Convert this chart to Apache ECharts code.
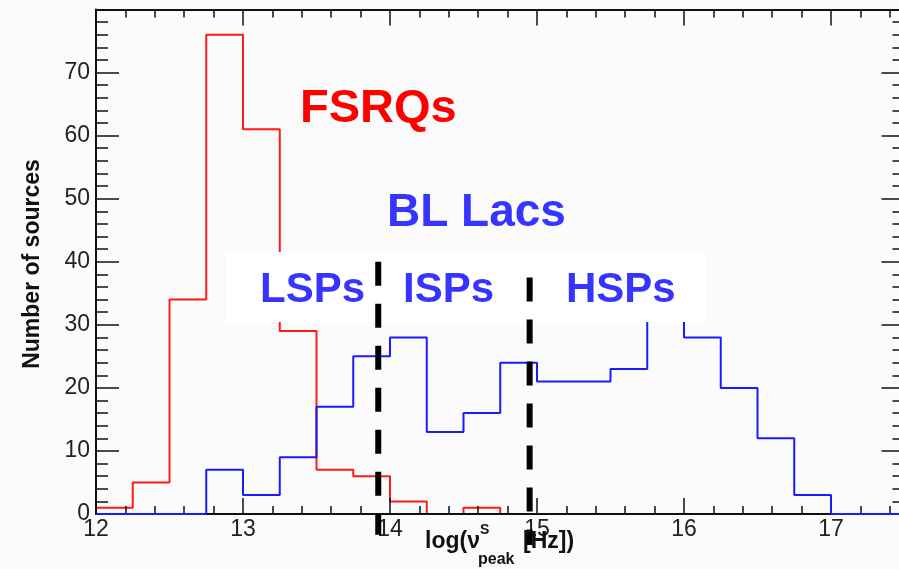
<!DOCTYPE html>
<html>
<head>
<meta charset="utf-8">
<script src="https://cdn.jsdelivr.net/npm/echarts@6/dist/echarts.min.js"></script>
<style>
  html, body { margin: 0; padding: 0; background: #fbfbfb; overflow: hidden; width: 899px; height: 569px; }
  /* the frame of the plot runs a few pixels past the visible page edge */
  #chart { width: 906px; height: 569px; }
</style>
</head>
<body>
<div id="chart"></div>
<script>
// Bin edges of log(nu_peak) histograms (bin width 0.25)
const binEdges = [12, 12.25, 12.5, 12.75, 13, 13.25, 13.5, 13.75, 14, 14.25, 14.5, 14.75,
                  15, 15.25, 15.5, 15.75, 16, 16.25, 16.5, 16.75, 17, 17.25, 17.5];
// Counts per bin
const fsrqCounts  = [1, 5, 34, 76, 61, 29, 7, 6, 2, 0, 1, 0, 0, 0, 0, 0, 0, 0, 0, 0, 0, 0];
const bllacCounts = [0, 0, 0, 7, 3, 9, 17, 25, 28, 13, 16, 24, 21, 21, 23, 32, 28, 20, 12, 3, 0, 0];
// Class boundaries (LSP/ISP and ISP/HSP) drawn as dashed lines: [x, yTop, yBottom]
const boundaryX      = [13.92, 14.95];
const boundaryTop    = [40, 37.5];
const boundaryBottom = [-3.3, -4.9];

const FONT = "'Liberation Sans', Arial, Helvetica, sans-serif";

function stepPoints(counts) {
  const pts = counts.map((c, i) => [binEdges[i], c]);
  pts.push([binEdges[counts.length], counts[counts.length - 1]]);
  return pts;
}

const chart = echarts.init(document.getElementById('chart'), null, { renderer: 'canvas' });

const tickStyle = { color: '#111', width: 1.5 };
const frameLine = { show: true, onZero: false, lineStyle: { color: '#111', width: 2 } };

function xAxisDef(pos, major) {
  return {
    type: 'value', min: 12, max: 17.5, interval: major ? 1 : 0.2, position: pos,
    z: 3,
    axisLine: major ? frameLine : { show: false, onZero: false },
    axisTick: { show: true, inside: true, length: major ? 16 : 8, lineStyle: tickStyle },
    axisLabel: (major && pos === 'bottom')
      ? { show: true, margin: 4, color: '#222', fontSize: 23, fontFamily: FONT, showMaxLabel: false }
      : { show: false },
    splitLine: { show: false }
  };
}
function yAxisDef(pos) {
  return {
    type: 'value', min: 0, max: 80, interval: 10, position: pos, z: 3,
    axisLine: frameLine,
    axisTick: { show: true, inside: true, length: 23, lineStyle: tickStyle },
    minorTick: { show: true, splitNumber: 5, length: 12, lineStyle: tickStyle },
    axisLabel: pos === 'left'
      ? { show: true, margin: 6, color: '#222', fontSize: 23, fontFamily: FONT, showMaxLabel: false }
      : { show: false },
    splitLine: { show: false }
  };
}

const boundaryData = boundaryX.map((x, i) => [x, boundaryTop[i], boundaryBottom[i]]);

// text helper: y is the baseline
function label(text, x, baseline, size, color) {
  return {
    type: 'text', x: x, y: baseline - 0.35 * size, z: 30, silent: true,
    style: { text: text, fill: color, font: 'bold ' + size + 'px ' + FONT,
             align: 'left', verticalAlign: 'middle' }
  };
}

chart.setOption({
  backgroundColor: '#fbfbfb',
  animation: false,
  grid: { left: 96, right: 1.5, top: 9.5, bottom: 55, containLabel: false },
  xAxis: [xAxisDef('bottom', true), xAxisDef('bottom', false), xAxisDef('top', true), xAxisDef('top', false)],
  yAxis: [yAxisDef('left'), yAxisDef('right')],
  series: [
    {
      name: 'FSRQs', type: 'line', step: 'end', z: 2, silent: true,
      xAxisIndex: 0, yAxisIndex: 0, symbol: 'none',
      lineStyle: { color: '#ff1a1a', width: 2 },
      data: stepPoints(fsrqCounts)
    },
    {
      name: 'BL Lacs', type: 'line', step: 'end', z: 4, silent: true,
      xAxisIndex: 0, yAxisIndex: 0, symbol: 'none',
      lineStyle: { color: '#1a1aff', width: 2 },
      data: stepPoints(bllacCounts)
    },
    {
      name: 'boundaries', type: 'custom', z: 20, silent: true, clip: false,
      xAxisIndex: 0, yAxisIndex: 0,
      encode: { x: 0, y: [1, 2] },
      data: boundaryData,
      renderItem: function (params, api) {
        const p1 = api.coord([api.value(0), api.value(1)]);
        const p2 = api.coord([api.value(0), api.value(2)]);
        return {
          type: 'line',
          shape: { x1: p1[0], y1: p1[1], x2: p2[0], y2: p2[1] },
          style: { stroke: '#000', lineWidth: 6, lineDash: [24, 18] }
        };
      }
    }
  ],
  graphic: [
    // white panel behind the subclass labels
    { type: 'rect', z: 10, silent: true, shape: { x: 226, y: 252, width: 480, height: 70 },
      style: { fill: '#ffffff' } },
    label('FSRQs', 300, 125, 47, '#ff0000'),
    label('BL Lacs', 387, 229, 46, '#3535ff'),
    label('LSPs', 260, 305, 42, '#3535ff'),
    label('ISPs', 403, 305, 42, '#3535ff'),
    label('HSPs', 566, 305, 42, '#3535ff'),
    // y axis title
    { type: 'text', x: 33, y: 264, rotation: Math.PI / 2, z: 30, silent: true,
      style: { text: 'Number of sources', fill: '#111', font: 'bold 23px ' + FONT,
               align: 'center', verticalAlign: 'middle' } },
    // x axis title: log(nu^S_peak [Hz])
    label('log(\u03bd', 425, 550, 23, '#111'),
    label('S', 480, 535, 14, '#111'),
    label('peak', 478, 565, 16, '#111'),
    label('[Hz])', 523, 550, 23, '#111')
  ]
});
</script>
</body>
</html>
